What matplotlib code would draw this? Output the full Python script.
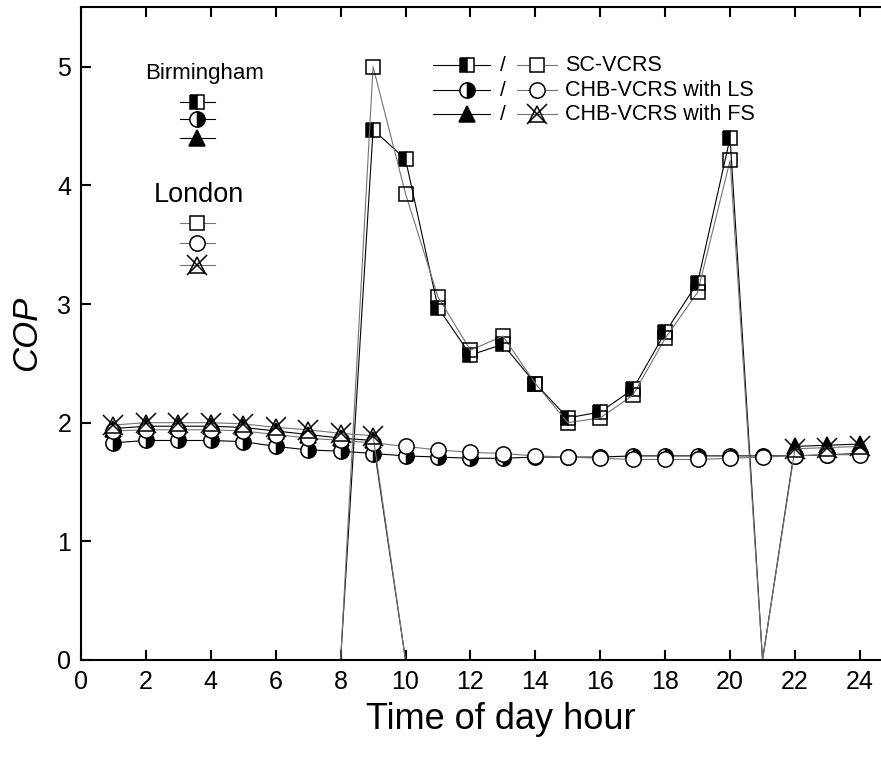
import matplotlib
matplotlib.use("Agg")
import matplotlib.pyplot as plt

plt.rcParams["font.family"] = ["Liberation Sans", "DejaVu Sans"]

hours = list(range(1, 25))

# SC-VCRS (zero = system off, line drawn but no marker)
sc_bham = [0, 0, 0, 0, 0, 0, 0, 0, 4.47, 4.22, 2.97, 2.57, 2.66, 2.33, 2.04, 2.09,
           2.28, 2.76, 3.18, 4.40, 0, 0, 0, 0]
sc_london = [0, 0, 0, 0, 0, 0, 0, 0, 5.00, 3.93, 3.06, 2.61, 2.73, 2.33, 2.00, 2.04,
             2.23, 2.71, 3.10, 4.21, 0, 0, 0, 0]

# CHB-VCRS with LS
ls_bham = [1.83, 1.85, 1.85, 1.85, 1.84, 1.80, 1.77, 1.76, 1.74, 1.72, 1.71, 1.70,
           1.70, 1.71, 1.71, 1.71, 1.72, 1.72, 1.72, 1.72, 1.72, 1.72, 1.73, 1.74]
ls_london = [1.93, 1.94, 1.94, 1.94, 1.93, 1.90, 1.87, 1.85, 1.83, 1.80, 1.77, 1.75,
             1.74, 1.72, 1.71, 1.70, 1.69, 1.69, 1.69, 1.70, 1.71, 1.72, 1.73, 1.73]

# CHB-VCRS with FS
fs_bham = [1.95, 1.97, 1.97, 1.97, 1.96, 1.93, 1.90, 1.87, 1.85, 0, 0, 0,
           0, 0, 0, 0, 0, 0, 0, 0, 0, 1.80, 1.81, 1.82]
fs_london = [1.98, 2.00, 2.00, 2.00, 1.99, 1.96, 1.94, 1.91, 1.89, 0, 0, 0,
             0, 0, 0, 0, 0, 0, 0, 0, 0, 1.78, 1.79, 1.80]

x_ticks = list(range(0, 25, 2))
y_ticks = [0, 1, 2, 3, 4, 5]


def nonzero(vals):
    return [i for i, v in enumerate(vals) if v > 0]


fig = plt.figure(figsize=(8.81, 7.58), dpi=100)
ax = fig.add_axes([0.0919, 0.1293, 0.921, 0.861])

bham_line = dict(color="black", linewidth=0.8)
lon_line = dict(color="0.45", linewidth=0.8)
mew = 1.1

# Birmingham
ax.plot(hours, sc_bham, marker="s", ms=10, fillstyle="left", mfc="black", mfcalt="white",
        mec="black", mew=mew, markevery=nonzero(sc_bham), **bham_line)
ax.plot(hours, ls_bham, marker="o", ms=11, fillstyle="right", mfc="black", mfcalt="white",
        mec="black", mew=mew, markevery=nonzero(ls_bham), **bham_line)
ax.plot(hours, fs_bham, marker="^", ms=11, mfc="black", mec="black", mew=mew,
        markevery=nonzero(fs_bham), **bham_line)

# London
ax.plot(hours, sc_london, marker="s", ms=10, mfc="none", mec="black", mew=mew,
        markevery=nonzero(sc_london), **lon_line)
ax.plot(hours, ls_london, marker="o", ms=11, mfc="white", mec="black", mew=mew,
        markevery=nonzero(ls_london), **lon_line)
ax.plot(hours, fs_london, marker="^", ms=11, mfc="none", mec="black", mew=mew,
        markevery=nonzero(fs_london), **lon_line)
ax.plot(hours, fs_london, marker="x", ms=14, mec="black", mew=mew, linestyle="none",
        markevery=nonzero(fs_london))

ax.set_xlim(0, 25)
ax.set_ylim(0, 5.5)
ax.set_xticks(x_ticks)
ax.set_yticks(y_ticks)
ax.tick_params(direction="in", length=7.5, width=1.5, labelsize=18, top=True, right=True,
               pad=7)
for s in ax.spines.values():
    s.set_linewidth(1.5)

ax.set_xlabel("Time of day hour", fontsize=26, labelpad=8)
ax.xaxis.set_label_coords(0.518, -0.065)
ax.set_ylabel("COP", fontsize=25, style="italic", labelpad=10)

# right-hand legend (drawn in axes fraction coordinates)
tr = ax.transAxes
def fx(px):
    return (px - 81) / (881 * 0.921)
def fy(py):
    return (758 - 0.1293 * 758 - py) / (758 * 0.861)

rows = [(65, "SC-VCRS"), (90, "CHB-VCRS with LS"), (114, "CHB-VCRS with FS")]
b_styles = [dict(marker="s", ms=10, fillstyle="left", mfc="black", mfcalt="white"),
            dict(marker="o", ms=11, fillstyle="right", mfc="black", mfcalt="white"),
            dict(marker="^", ms=11, mfc="black")]
l_styles = [dict(marker="s", ms=10, mfc="white"),
            dict(marker="o", ms=11, mfc="white"),
            dict(marker="^", ms=11, mfc="none")]
for (py, label), bs, ls in zip(rows, b_styles, l_styles):
    y = fy(py)
    ax.plot([fx(433), fx(490)], [y, y], transform=tr, clip_on=False, **bham_line)
    ax.plot([fx(467)], [y], transform=tr, mec="black", mew=mew, clip_on=False, **bs)
    ax.text(fx(503), y, "/", transform=tr, fontsize=15, ha="center", va="center")
    ax.plot([fx(517), fx(557)], [y, y], transform=tr, clip_on=False, **lon_line)
    ax.plot([fx(537)], [y], transform=tr, mec="black", mew=mew, clip_on=False, **ls)
    if label.endswith("FS"):
        ax.plot([fx(537)], [y], transform=tr, marker="x", ms=14, mec="black", mew=mew)
    ax.text(fx(565), y, label, transform=tr, fontsize=15.5, ha="left", va="center")

# left-hand city key
ax.text(fx(205), fy(73), "Birmingham", transform=tr, fontsize=16, ha="center", va="center")
ax.text(fx(199), fy(195), "London", transform=tr, fontsize=19.5, ha="center", va="center")
for py, bs in zip([102, 119, 138], b_styles):
    y = fy(py)
    ax.plot([fx(180), fx(215)], [y, y], transform=tr, **bham_line)
    ax.plot([fx(197)], [y], transform=tr, mec="black", mew=mew, **bs)
for i, (py, ls) in enumerate(zip([223, 243, 265], l_styles)):
    y = fy(py)
    ax.plot([fx(180), fx(215)], [y, y], transform=tr, **lon_line)
    ax.plot([fx(197)], [y], transform=tr, mec="black", mew=mew, **ls)
    if i == 2:
        ax.plot([fx(197)], [y], transform=tr, marker="x", ms=14, mec="black", mew=mew)

fig.savefig("out.png", dpi=100)
